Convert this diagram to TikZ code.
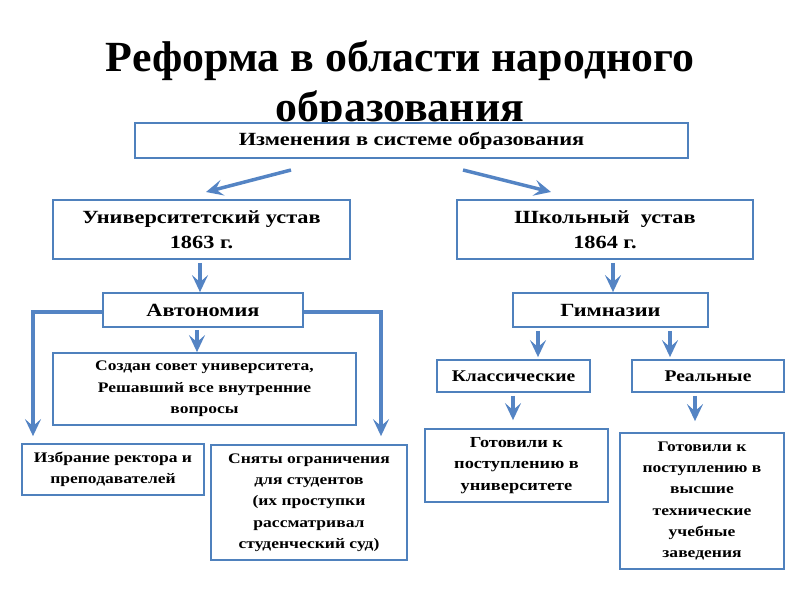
\documentclass[tikz,border=0pt]{standalone}
\usepackage{fontspec}
\setmainfont{Liberation Serif}
\newfontfamily\titlefont[FakeStretch=1.02]{Liberation Serif}
\newfontfamily\boxfont[FakeStretch=1.2]{Liberation Serif}
\usepackage{xcolor}
\usetikzlibrary{arrows.meta,calc}
\definecolor{boxblue}{RGB}{79,129,189}
\definecolor{arrblue}{RGB}{84,132,196}

\begin{document}
\begin{tikzpicture}[x=1pt,y=-1pt,
    box/.style={draw=boxblue,line width=1.8pt,fill=white,align=center,inner sep=2pt},
    bigtext/.style={font=\boxfont\bfseries\fontsize{18.6}{25}\selectfont},
    midtext/.style={font=\boxfont\bfseries\fontsize{16.3}{21}\selectfont},
    smalltext/.style={font=\boxfont\bfseries\fontsize{14.6}{21.3}\selectfont},
    arr/.style={arrblue,line width=3.5pt,-{Stealth[length=17pt,width=16pt,inset=7pt]}}]
    \useasboundingbox (0,0) rectangle (800,600);

    % title
    \node[font=\titlefont\bfseries\fontsize{43}{50}\selectfont,align=center] (title) at (400,86)
        {Реформа в области народного\\образования};

    % boxes
    \node[box,bigtext,minimum width=553,minimum height=35] (change) at (411.5,140.5) {Изменения в системе образования};
    \node[box,bigtext,minimum width=297,minimum height=59] (univ) at (201.5,229.5) {Университетский устав\\1863 г.};
    \node[box,bigtext,minimum width=296,minimum height=59] (school) at (605,229.5) {Школьный\ \ устав\\1864 г.};
    \node[box,bigtext,minimum width=200,minimum height=34] (auto) at (203,310) {Автономия};
    \node[box,bigtext,minimum width=195,minimum height=34] (gymn) at (610.5,310) {Гимназии};
    \node[box,smalltext,minimum width=303,minimum height=72] (council) at (204.5,389) {Создан совет университета,\\Решавший все внутренние\\вопросы};
    \node[box,midtext,minimum width=153,minimum height=32] (classic) at (513.5,376) {Классические};
    \node[box,midtext,minimum width=152,minimum height=32] (real) at (708,376) {Реальные};
    \node[box,smalltext,minimum width=182,minimum height=51] (rector) at (113,469.5) {Избрание ректора и\\преподавателей};
    \node[box,smalltext,minimum width=196,minimum height=115] (students) at (309,502.5) {Сняты ограничения\\для студентов\\(их проступки\\рассматривал\\студенческий суд)};
    \node[box,font=\boxfont\bfseries\fontsize{15.3}{21.3}\selectfont,minimum width=183,minimum height=73] (prepuni) at (516.5,465.5) {Готовили к\\поступлению в\\университете};
    \node[box,smalltext,minimum width=164,minimum height=136] (preptech) at (702,501) {Готовили к\\поступлению в\\высшие\\технические\\учебные\\заведения};

    % arrows
    \coordinate (cl) at (291,170);
    \coordinate (cr) at (463,170);
    \draw[arr] (cl) -- (206,192);
    \draw[arr] (cr) -- (551,192);
    \draw[arr] (univ.south -| 200,0) ++(0,3) -- (auto.north -| 200,0);
    \draw[arr] (school.south -| 613,0) ++(0,3) -- (gymn.north -| 613,0);
    \draw[arr] (auto.south -| 197,0) ++(0,2) -- (council.north -| 197,0);
    \draw[arr] (gymn.south -| 538,0) ++(0,3) -- ($(classic.north -| 538,0)+(0,-2)$);
    \draw[arr] (gymn.south -| 670,0) ++(0,3) -- ($(real.north -| 670,0)+(0,-2)$);
    \draw[arr] (classic.south -| 513,0) ++(0,3) -- ($(prepuni.north -| 513,0)+(0,-8)$);
    \draw[arr] (real.south -| 695,0) ++(0,3) -- ($(preptech.north -| 695,0)+(0,-11)$);
    \draw[arr] (auto.west |- 0,312) -| ($(rector.north -| 33,0)+(0,-7)$);
    \draw[arr] (auto.east |- 0,312) -| ($(students.north -| 381,0)+(0,-8)$);
\end{tikzpicture}
\end{document}
